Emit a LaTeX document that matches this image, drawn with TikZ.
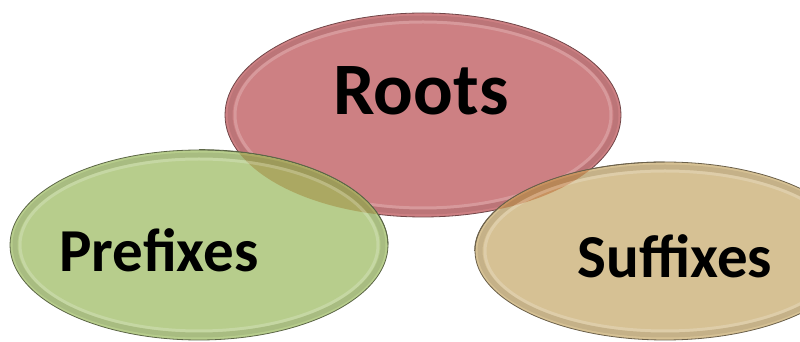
\documentclass[tikz,border=0pt]{standalone}
\usepackage{fontspec}
\setmainfont{Carlito}
\usetikzlibrary{shapes.geometric}

\definecolor{rootfill}{HTML}{CD8083}
\definecolor{prefill}{HTML}{B7CD8C}
\definecolor{suffill}{HTML}{D6C194}
\definecolor{preroot}{HTML}{ABA862}
\definecolor{sufroot}{HTML}{C8925F}

\begin{document}
\begin{tikzpicture}[x=1pt, y=1pt]
  \tikzstyle{oval}=[ellipse, inner sep=0pt, line width=0.8pt]
  \tikzstyle{word}=[anchor=base, text=black]

  \useasboundingbox (0, 0) rectangle (800, 342);

  % roots oval underneath
  \node[oval, fill=rootfill, draw=rootfill!55!black, minimum width=396pt, minimum height=204pt] (roots) at (423, 227) {};
  \draw[black, opacity=0.08, line width=5pt] (423, 227) ellipse [x radius=193, y radius=97];
  \draw[white, opacity=0.2, line width=3pt] (423, 227) ellipse [x radius=188, y radius=93];

  % the two lower ovals
  \node[oval, fill=prefill, draw=prefill!50!black, minimum width=378pt, minimum height=190pt] (pre) at (199, 97) {};
  \node[oval, fill=suffill, draw=suffill!50!black, minimum width=380pt, minimum height=178pt] (suf) at (665, 91) {};

  % where they cover the roots oval
  \begin{scope}
    \clip (423, 227) ellipse [x radius=198, y radius=102];
    \fill[preroot] (199, 97) ellipse [x radius=188.6, y radius=94.6];
    \fill[sufroot] (665, 91) ellipse [x radius=189.6, y radius=88.6];
  \end{scope}
  \draw[prefill!50!black, line width=0.8pt] (pre.north) arc [start angle=90, end angle=0, x radius=189, y radius=95];
  \draw[suffill!50!black, line width=0.8pt] (suf.west) arc [start angle=180, end angle=90, x radius=190, y radius=89];

  % bevel rim
  \foreach \cx/\cy/\rx/\ry in {199/97/189/95, 665/91/190/89} {
    \draw[black, opacity=0.08, line width=5pt] (\cx, \cy) ellipse [x radius=\rx-5, y radius=\ry-5];
    \draw[white, opacity=0.2, line width=3pt] (\cx, \cy) ellipse [x radius=\rx-10, y radius=\ry-9];
  }

  % labels
  \node[word, font=\bfseries\fontsize{74}{74}\selectfont] (rootw) at (421, 227) {Roots};
  \node[word, font=\bfseries\fontsize{61}{61}\selectfont] (prew) at (159, 70) {Prefixes};
  \node[word, font=\bfseries\fontsize{61}{61}\selectfont] (sufw) at (675, 64) {Suffixes};
\end{tikzpicture}
\end{document}
